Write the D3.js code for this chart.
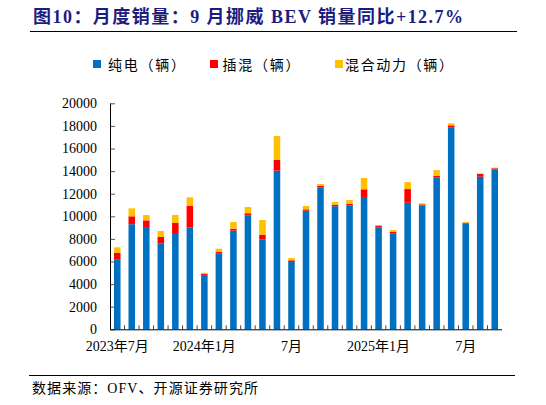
<!DOCTYPE html>
<html>
<head>
<meta charset="utf-8">
<script src="https://cdn.jsdelivr.net/npm/d3@7"></script>
<style>
  html, body { margin: 0; padding: 0; background: #fff; }
  svg { display: block; }
</style>
</head>
<body>
<div id="wrapper"></div>
<script>
// monthly sales, Norway (vehicles)
const months = [
  "2023-07", "2023-08", "2023-09", "2023-10", "2023-11", "2023-12",
  "2024-01", "2024-02", "2024-03", "2024-04", "2024-05", "2024-06",
  "2024-07", "2024-08", "2024-09", "2024-10", "2024-11", "2024-12",
  "2025-01", "2025-02", "2025-03", "2025-04", "2025-05", "2025-06",
  "2025-07", "2025-08", "2025-09",
]
const bev = [
  6200, 9300, 9050, 7580, 8520, 9030,
  4800, 6730, 8730, 10090, 7970, 14040,
  5960, 10500, 12570, 10890, 10970, 11710,
  9030, 8500, 11200, 10970, 13450, 17880,
  9350, 13500, 14160,
]
const phev = [
  580, 700, 590, 590, 890, 1880,
  90, 110, 170, 180, 400, 950,
  150, 120, 140, 140, 140, 680,
  110, 140, 1210, 90, 140, 170,
  90, 240, 90,
]
const hev = [
  480, 700, 470, 530, 710, 770,
  110, 290, 590, 560, 1300, 2120,
  200, 290, 150, 240, 330, 1000,
  90, 150, 620, 90, 500, 180,
  60, 60, 60,
]
const seriesNames = ["纯电（辆）", "插混（辆）", "混合动力（辆）"]
const yTicks = [0, 2000, 4000, 6000, 8000, 10000, 12000, 14000, 16000, 18000, 20000]
const xTickLabels = {
  "2023-07": "2023年7月",
  "2024-01": "2024年1月",
  "2024-07": "7月",
  "2025-01": "2025年1月",
  "2025-07": "7月",
}

const colors = ["#0070C0", "#FF0000", "#FFC000"]
const latin = "'Liberation Serif', 'Times New Roman', 'Noto Sans CJK SC', serif"

// 1. Dimensions
const dimensions = {
  width: 546,
  height: 405,
  plot: { left: 110, right: 502, top: 103.3, bottom: 329.3 },
}

// 2. Canvas
const svg = d3
  .select("#wrapper")
  .append("svg")
  .attr("width", dimensions.width)
  .attr("height", dimensions.height)

// title
svg
  .append("text")
  .text("图10：月度销量：9 月挪威 BEV 销量同比+12.7%")
  .attr("x", 33)
  .attr("y", 23)
  .attr("textLength", 430)
  .attr("lengthAdjust", "spacing")
  .style("font-family", latin)
  .style("font-weight", "bold")
  .style("font-size", "18px")
  .style("fill", "#1c1c80")

svg
  .append("line")
  .attr("x1", 30)
  .attr("x2", 517)
  .attr("y1", 31.5)
  .attr("y2", 31.5)
  .style("stroke", "#000")
  .style("stroke-width", 1)

// 3. Scales
const data = months.map((m, i) => ({ month: m, bev: bev[i], phev: phev[i], hev: hev[i] }))
const keys = ["bev", "phev", "hev"]

const xScale = d3
  .scaleBand()
  .domain(months)
  .range([dimensions.plot.left, dimensions.plot.right])
  .paddingInner(0.55)
  .paddingOuter(0.275)

const yScale = d3
  .scaleLinear()
  .domain([0, 20000])
  .range([dimensions.plot.bottom, dimensions.plot.top])

const stacked = d3.stack().keys(keys)(data)

// 4. Bars
svg
  .append("g")
  .selectAll("g")
  .data(stacked)
  .join("g")
  .attr("fill", (d, i) => colors[i])
  .selectAll("rect")
  .data((d) => d)
  .join("rect")
  .attr("x", (d) => xScale(d.data.month))
  .attr("y", (d) => yScale(d[1]))
  .attr("width", xScale.bandwidth())
  .attr("height", (d) => yScale(d[0]) - yScale(d[1]))

// 5. Axes
const yAxis = svg
  .append("g")
  .attr("transform", `translate(${dimensions.plot.left},0)`)
  .call(
    d3.axisLeft(yScale).tickValues(yTicks).tickFormat(d3.format("d")).tickSize(-4).tickPadding(13)
  )
yAxis.select(".domain").attr("d", `M0.5,${dimensions.plot.top}V${dimensions.plot.bottom}`).style("stroke", "#000")
yAxis.selectAll(".tick line").attr("x1", 0.5).attr("x2", 5).style("stroke", "#555")
yAxis
  .selectAll(".tick text")
  .style("font-family", latin)
  .style("font-size", "14px")
  .style("fill", "#000")

// band boundary ticks on x axis
const step = xScale.step()
const boundaries = months.slice(1).map((m) => xScale(m) - (step - xScale.bandwidth()) / 2)
svg
  .append("g")
  .selectAll("line")
  .data(boundaries)
  .join("line")
  .attr("x1", (d) => d)
  .attr("x2", (d) => d)
  .attr("y1", dimensions.plot.bottom)
  .attr("y2", dimensions.plot.bottom - 4)
  .style("stroke", "#444")

svg
  .append("line")
  .attr("x1", dimensions.plot.left)
  .attr("x2", dimensions.plot.right)
  .attr("y1", dimensions.plot.bottom + 0.5)
  .attr("y2", dimensions.plot.bottom + 0.5)
  .style("stroke", "#000")

const xAxis = svg
  .append("g")
  .attr("transform", `translate(0,${dimensions.plot.bottom})`)
  .call(
    d3.axisBottom(xScale)
      .tickValues(Object.keys(xTickLabels))
      .tickFormat((d) => xTickLabels[d])
      .tickSize(0)
      .tickPadding(12)
  )
xAxis.select(".domain").remove()
xAxis
  .selectAll(".tick text")
  .style("font-family", latin)
  .style("font-size", "14px")
  .style("fill", "#000")

// 6. Legend
const legendPos = [
  { sx: 93, tx: 108, len: 77 },
  { sx: 210, tx: 222.5, len: 77 },
  { sx: 335, tx: 345, len: 108 },
]
const legend = svg
  .append("g")
  .selectAll("g")
  .data(seriesNames)
  .join("g")

legend
  .append("rect")
  .attr("x", (d, i) => legendPos[i].sx)
  .attr("y", 60)
  .attr("width", 8)
  .attr("height", 8)
  .attr("fill", (d, i) => colors[i])

legend
  .append("text")
  .text((d) => d)
  .attr("x", (d, i) => legendPos[i].tx)
  .attr("y", 69.5)
  .attr("textLength", (d, i) => legendPos[i].len)
  .attr("lengthAdjust", "spacing")
  .style("font-family", latin)
  .style("font-size", "14px")
  .style("fill", "#000")

// 7. Source
svg
  .append("line")
  .attr("x1", 29)
  .attr("x2", 515)
  .attr("y1", 375.5)
  .attr("y2", 375.5)
  .style("stroke", "#000")

svg
  .append("text")
  .text("数据来源：OFV、开源证券研究所")
  .attr("x", 32)
  .attr("y", 393)
  .attr("textLength", 226)
  .attr("lengthAdjust", "spacing")
  .style("font-family", latin)
  .style("font-size", "14px")
  .style("fill", "#000")
</script>
</body>
</html>
